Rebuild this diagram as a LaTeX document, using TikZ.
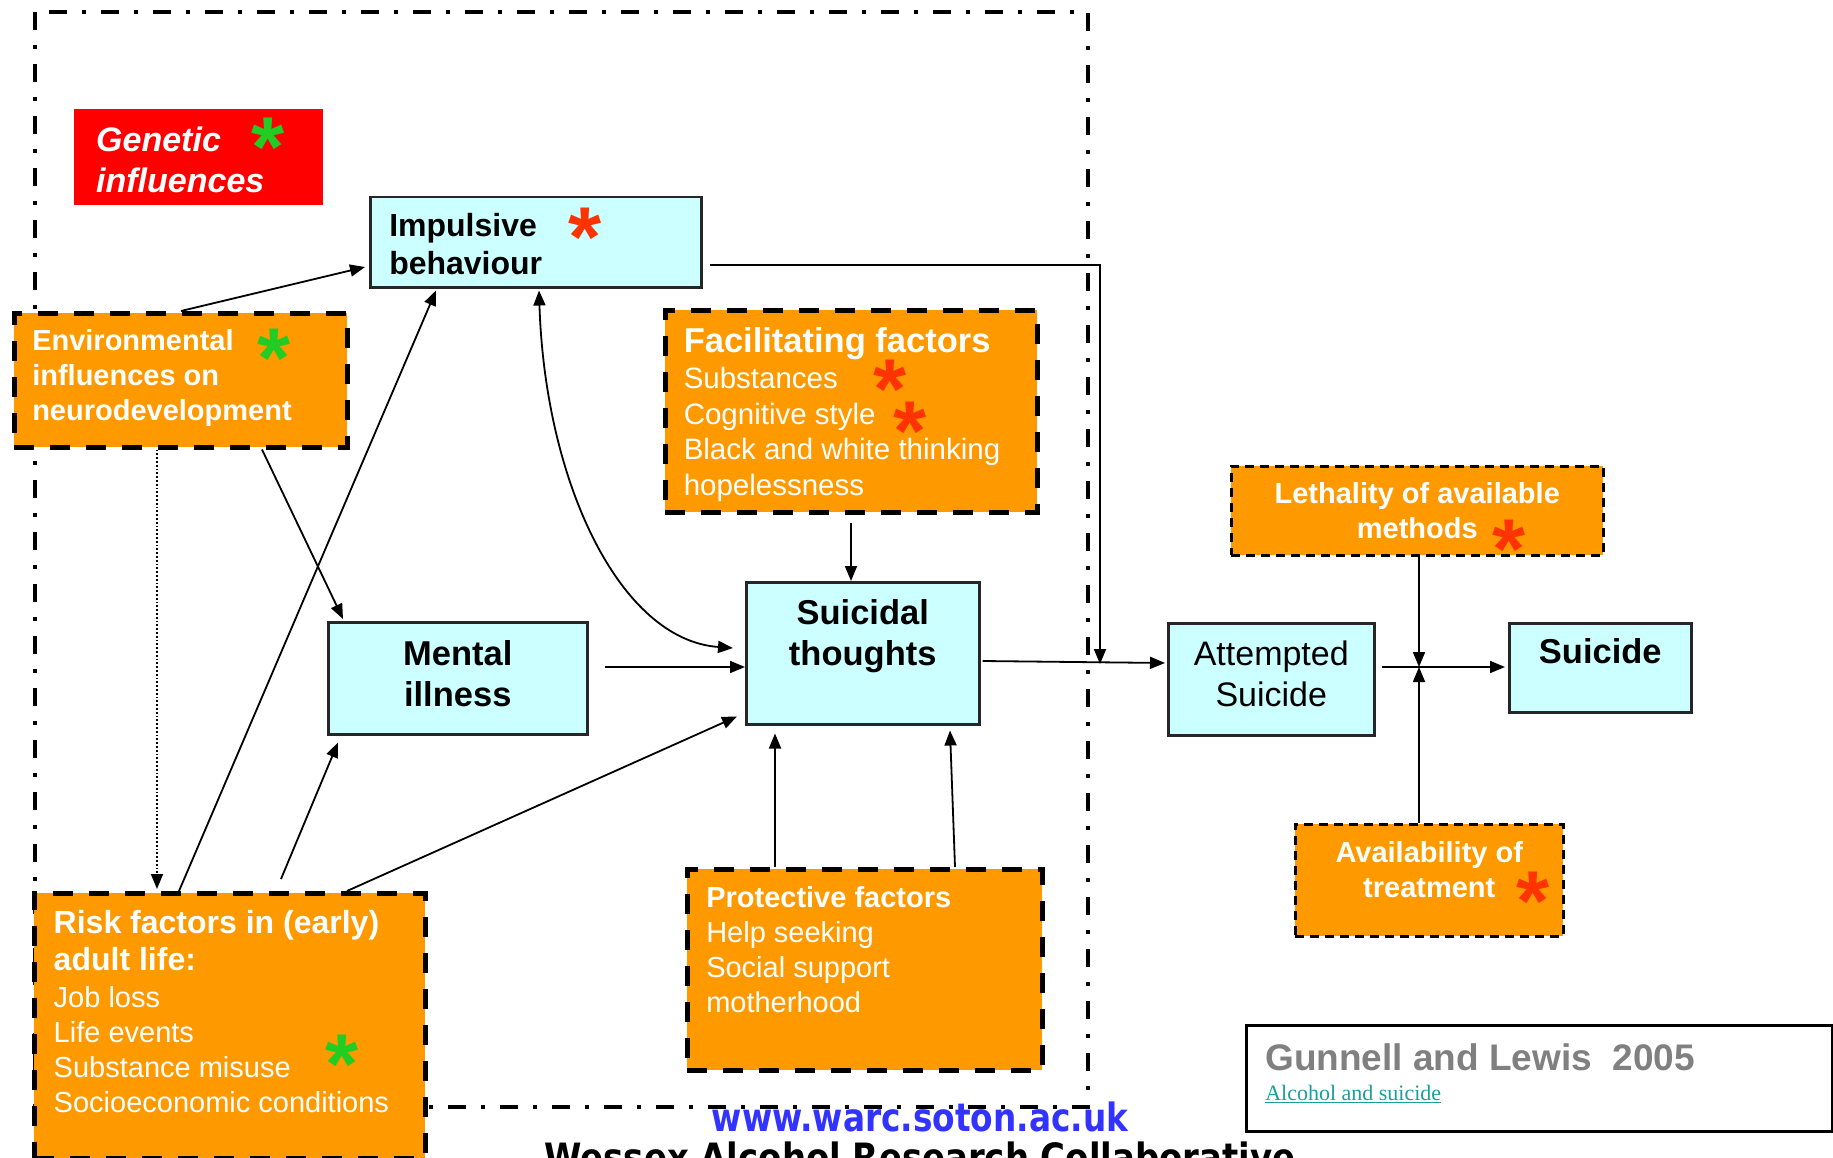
\documentclass[tikz,border=0pt]{standalone}
\usepackage{fontspec}
\usepackage{graphicx}
\setmainfont{Liberation Sans}
\newfontfamily\serifa{Liberation Serif}
\newfontfamily\djv{DejaVu Sans}
\usetikzlibrary{arrows.meta,calc}
\definecolor{orng}{HTML}{FF9900}
\definecolor{cyanbox}{HTML}{CCFFFF}
\definecolor{astred}{HTML}{FF3300}
\definecolor{astgreen}{HTML}{22CC22}
\definecolor{gtext}{HTML}{808080}
\definecolor{tealink}{HTML}{1A9E9E}
\definecolor{wblue}{HTML}{3333FF}
\newcommand{\fs}[2]{\fontsize{#1pt}{#2pt}\selectfont}
% width, height, left margin, first baseline, content
\newcommand{\lbox}[5]{\parbox[c][#2pt][t]{#1pt}{\raggedright\leftskip=#3pt\relax\rule{0pt}{#4pt}#5}}
% width, height, first baseline, content
\newcommand{\cbox}[4]{\parbox[c][#2pt][t]{#1pt}{\centering\rule{0pt}{#3pt}#4}}
\begin{document}
\begin{tikzpicture}[x=1pt,y=-1pt,
  cbx/.style={draw=black!85, line width=2.5pt, fill=cyanbox, inner sep=0pt, anchor=north west},
  obx/.style={draw=black, line width=4.5pt, dash pattern=on 20pt off 16pt, fill=orng, inner sep=0pt, anchor=north west, text=white},
  tbx/.style={draw=black, line width=2.5pt, dash pattern=on 9pt off 6pt, fill=orng, inner sep=0pt, anchor=north west, text=white},
  rbx/.style={fill=red, inner sep=0pt, anchor=north west, text=white},
  wbx/.style={draw=black, line width=2.5pt, fill=white, inner sep=0pt, anchor=north west},
  ast/.style={inner sep=0pt, anchor=base, font={\fontsize{85pt}{85pt}\selectfont\bfseries}},
  arr/.style={line width=1.8pt, -{Triangle[length=15pt,width=12pt]}},
  dblarr/.style={line width=1.8pt, {Triangle[length=15pt,width=12pt]}-{Triangle[length=15pt,width=12pt]}},
]
\fill[white] (0,0) rectangle (1833,1158);
\useasboundingbox (0,0) rectangle (1833,1158);

% outer dash-dot frame
\draw[line width=4.5pt, dash pattern=on 18pt off 15pt on 4pt off 15pt] (35,12) rectangle (1088,1107);

% boxes
\node[rbx] (gen) at (74,109) {\lbox{249}{96}{22}{42}{\fs{34}{41}\bfseries\itshape Genetic\\influences}};
\node[cbx] (imp) at (369,196) {\lbox{331}{90}{19}{39}{\fs{32}{38.6}\bfseries Impulsive\\behaviour}};
\node[obx] (env) at (12,311) {\lbox{333}{134}{18}{37}{\fs{29}{35}\bfseries Environmental\\influences on\\neurodevelopment}};
\node[obx] (fac) at (663,308) {\lbox{372}{202}{18.5}{42}{\fs{34.5}{41}\bfseries Facilitating factors\par\vspace{1pt}\fs{29.5}{35.5}\mdseries Substances\\Cognitive style\\Black and white thinking\\hopelessness}};
\node[cbx] (sui) at (745,581) {\cbox{233}{142}{42}{\fs{34.5}{41}\bfseries Suicidal\\thoughts}};
\node[cbx] (men) at (327,621) {\cbox{259}{112}{43}{\fs{34.5}{41}\bfseries Mental\\illness}};
\node[cbx] (att) at (1167,622) {\cbox{206}{112}{42}{\fs{34}{41}Attempted\\Suicide}};
\node[cbx] (scd) at (1508,622) {\cbox{182}{89}{40}{\fs{34.5}{41}\bfseries Suicide}};
\node[tbx] (let) at (1230,465) {\cbox{372}{89}{37}{\fs{29}{35}\bfseries Lethality of available\\methods}};
\node[tbx] (ava) at (1294,823) {\cbox{268}{112}{38}{\fs{29}{35}\bfseries Availability of\\treatment}};
\node[obx] (pro) at (685,867) {\lbox{355}{201}{19}{38.5}{\fs{29}{35}\textbf{Protective factors}\\Help seeking\\Social support\\motherhood}};
\node[obx] (risk) at (32,891) {\lbox{391}{265}{19.5}{40}{\fs{32}{37.5}\bfseries Risk factors in (early)\\adult life:\par\vspace{2pt}\fs{29}{35}\mdseries Job loss\\Life events\\Substance misuse\\Socioeconomic conditions}};
\node[wbx] (gun) at (1245,1024) {\lbox{586}{106}{19}{45}{\fs{37}{30}\bfseries\color{gtext}Gunnell and Lewis\ \ 2005\par\fs{22}{30}\mdseries\serifa\color{tealink}\underline{Alcohol and suicide}}};

% asterisks
\node[ast, text=astgreen] (a1) at (268,177) {*};
\node[ast, text=astred] (a2) at (585,267) {*};
\node[ast, text=astgreen] (a3) at (274,387) {*};
\node[ast, text=astred] (a4) at (890,418) {*};
\node[ast, text=astred] (a5) at (910,460) {*};
\node[ast, text=astred] (a6) at (1509,578) {*};
\node[ast, text=astred] (a7) at (1533,930) {*};
\node[ast, text=astgreen] (a8) at (342,1093) {*};

% footer texts
\node[anchor=base, inner sep=0pt, text=wblue, font={\djv\fontsize{39pt}{39pt}\selectfont\bfseries}] (www) at (920,1131) {\scalebox{0.84}[1]{www.warc.soton.ac.uk}};
\node[anchor=base, inner sep=0pt, text=black, font={\djv\fontsize{39pt}{39pt}\selectfont\bfseries}] (wes) at (920,1171) {\scalebox{0.87}[1]{Wessex Alcohol Research Collaborative}};

% connectors
\draw[arr] ($(env.north west)+(169,0)$) -- ($(imp.north west)+(-4,71)$);
\draw[arr] ($(env.south west)+(250,0)$) -- ($(men.north west)+(16,-2)$);
\draw[arr, dotted] ($(env.south west)+(145,0)$) -- ($(risk.north west)+(125,-2)$);
\draw[arr] ($(risk.north west)+(147,0)$) -- ($(imp.south west)+(67,2)$);
\draw[arr] ($(risk.north west)+(249,-12)$) -- ($(men.south west)+(11,7)$);
\draw[arr] ($(risk.north west)+(315,0)$) -- ($(sui.south west)+(-8,-9)$);
\draw[dblarr] ($(imp.south west)+(170,2)$) .. controls +(6,192) and +(-113,-8) .. ($(sui.north west)+(-12,67)$);
\draw[arr] ($(men.north east)+(16,46)$) -- ($(sui.north west)+(0,86)$);
\draw[arr] ($(fac.south west)+(188,8)$) -- ($(sui.north west)+(106,0)$);
\draw[arr] ($(pro.north west)+(90,0)$) -- ($(sui.south west)+(30,8)$);
\draw[arr] ($(pro.north west)+(270,0)$) -- ($(sui.south west)+(205,5)$);
\coordinate (k1) at (1100,265);
\coordinate (j1) at (1100,664);
\draw[arr] ($(imp.north east)+(7,69)$) -- (k1) -- (j1);
\draw[arr] ($(sui.north east)+(2,80)$) -- ($(att.north west)+(-2,41)$);
\coordinate (j2) at (1419,667);
\draw[arr] ($(let.south west)+(189,0)$) -- (j2);
\draw[arr] ($(ava.north west)+(125,0)$) -- (j2);
\draw[arr] ($(att.north east)+(6,45)$) -- ($(scd.north west)+(-3,45)$);
\end{tikzpicture}
\end{document}
